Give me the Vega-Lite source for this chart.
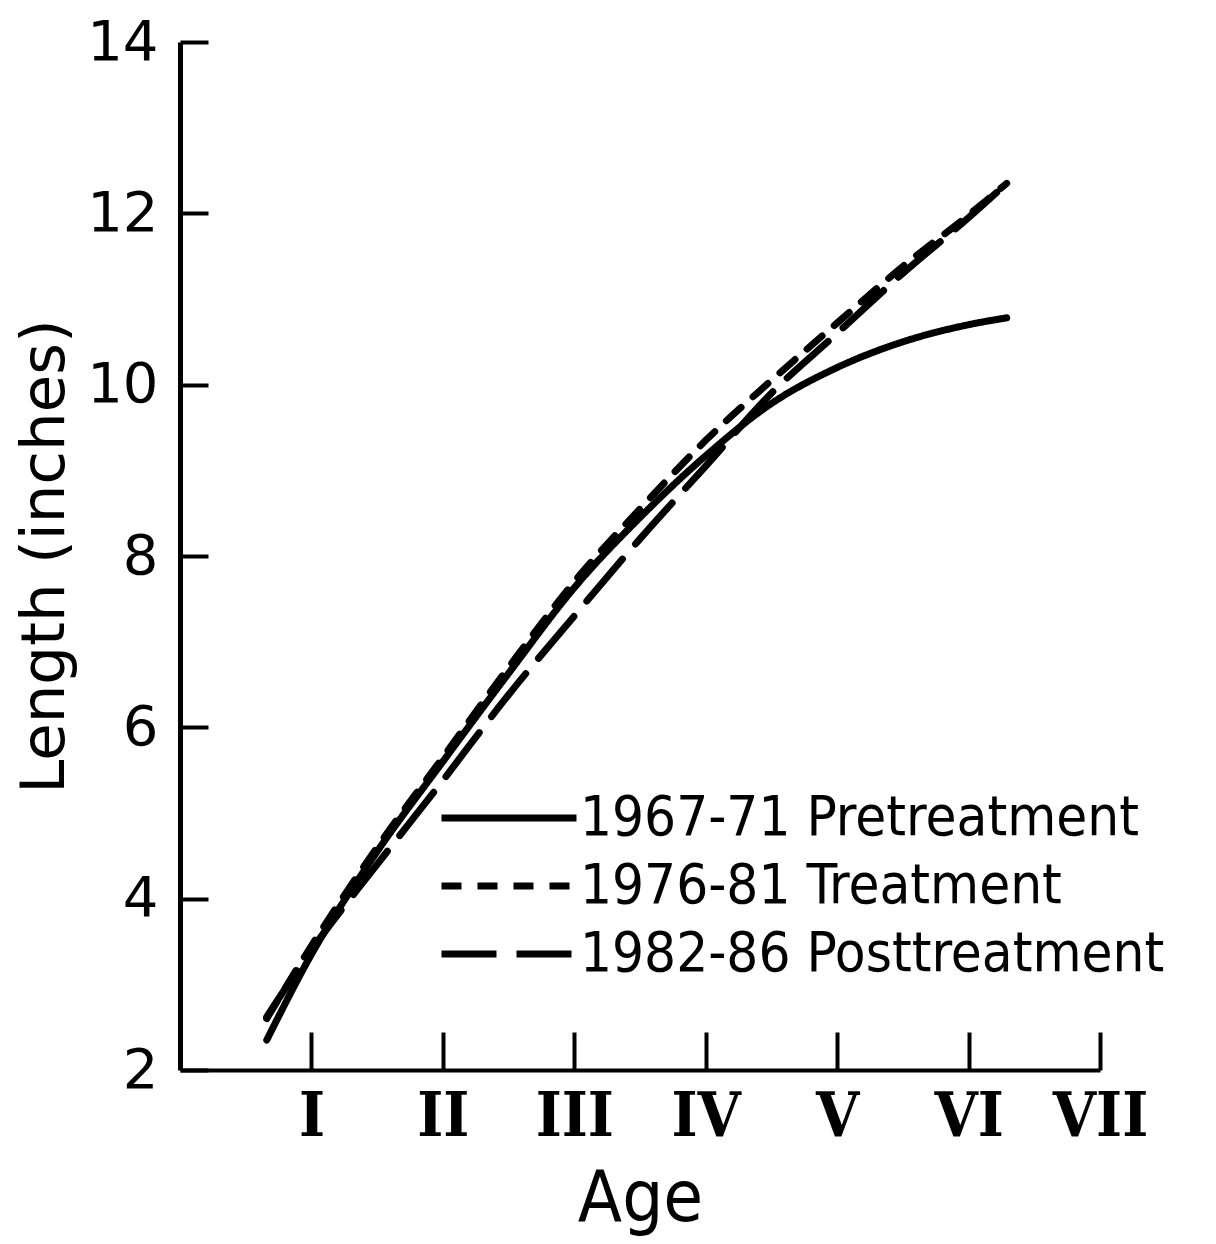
{
  "$schema": "https://vega.github.io/schema/vega-lite/v6.json",
  "width": 920,
  "height": 1028,
  "autosize": {"type": "none"},
  "padding": {"left": 180, "top": 42, "right": 116, "bottom": 174},
  "background": "white",
  "config": {"view": {"stroke": null}, "font": "DejaVu Sans Condensed"},
  "data": {
    "values": [
      {"period": "1967-71 Pretreatment", "age": 0.66, "length": 2.35},
      {"period": "1967-71 Pretreatment", "age": 1.0, "length": 3.35},
      {"period": "1967-71 Pretreatment", "age": 1.5, "length": 4.55},
      {"period": "1967-71 Pretreatment", "age": 2.0, "length": 5.6},
      {"period": "1967-71 Pretreatment", "age": 2.5, "length": 6.63},
      {"period": "1967-71 Pretreatment", "age": 3.0, "length": 7.63},
      {"period": "1967-71 Pretreatment", "age": 3.5, "length": 8.45},
      {"period": "1967-71 Pretreatment", "age": 4.0, "length": 9.17},
      {"period": "1967-71 Pretreatment", "age": 4.5, "length": 9.78},
      {"period": "1967-71 Pretreatment", "age": 5.0, "length": 10.2},
      {"period": "1967-71 Pretreatment", "age": 5.5, "length": 10.5},
      {"period": "1967-71 Pretreatment", "age": 6.0, "length": 10.7},
      {"period": "1967-71 Pretreatment", "age": 6.29, "length": 10.78},
      {"period": "1976-81 Treatment", "age": 0.66, "length": 2.6},
      {"period": "1976-81 Treatment", "age": 1.0, "length": 3.45},
      {"period": "1976-81 Treatment", "age": 1.5, "length": 4.6},
      {"period": "1976-81 Treatment", "age": 2.0, "length": 5.65},
      {"period": "1976-81 Treatment", "age": 2.5, "length": 6.7},
      {"period": "1976-81 Treatment", "age": 3.0, "length": 7.7},
      {"period": "1976-81 Treatment", "age": 3.5, "length": 8.55},
      {"period": "1976-81 Treatment", "age": 4.0, "length": 9.35},
      {"period": "1976-81 Treatment", "age": 4.5, "length": 10.05},
      {"period": "1976-81 Treatment", "age": 5.0, "length": 10.72},
      {"period": "1976-81 Treatment", "age": 5.5, "length": 11.38},
      {"period": "1976-81 Treatment", "age": 6.0, "length": 11.98},
      {"period": "1976-81 Treatment", "age": 6.29, "length": 12.35},
      {"period": "1982-86 Posttreatment", "age": 0.66, "length": 2.62},
      {"period": "1982-86 Posttreatment", "age": 1.0, "length": 3.4},
      {"period": "1982-86 Posttreatment", "age": 1.5, "length": 4.4},
      {"period": "1982-86 Posttreatment", "age": 2.0, "length": 5.38},
      {"period": "1982-86 Posttreatment", "age": 2.5, "length": 6.38},
      {"period": "1982-86 Posttreatment", "age": 3.0, "length": 7.3},
      {"period": "1982-86 Posttreatment", "age": 3.5, "length": 8.2},
      {"period": "1982-86 Posttreatment", "age": 4.0, "length": 9.05},
      {"period": "1982-86 Posttreatment", "age": 4.5, "length": 9.9},
      {"period": "1982-86 Posttreatment", "age": 5.0, "length": 10.6},
      {"period": "1982-86 Posttreatment", "age": 5.5, "length": 11.3},
      {"period": "1982-86 Posttreatment", "age": 6.0, "length": 11.95},
      {"period": "1982-86 Posttreatment", "age": 6.29, "length": 12.35}
    ]
  },
  "mark": {"type": "line", "interpolate": "monotone", "strokeWidth": 7, "strokeCap": "round", "strokeJoin": "round", "color": "black"},
  "encoding": {
    "x": {
      "field": "age", "type": "quantitative",
      "scale": {"domain": [0, 7], "nice": false},
      "axis": {
        "values": [1, 2, 3, 4, 5, 6, 7],
        "labelExpr": "['', 'I', 'II', 'III', 'IV', 'V', 'VI', 'VII'][datum.value]",
        "grid": false,
        "domainColor": "black", "domainWidth": 4,
        "tickColor": "black", "tickWidth": 4, "tickSize": -38,
        "labelFont": "DejaVu Serif Condensed", "labelFontSize": 62, "labelFontWeight": "bold", "labelColor": "black",
        "labelPadding": 54, "labelFlush": false, "labelOverlap": false,
        "title": "Age", "titleFont": "DejaVu Sans Condensed", "titleFontSize": 72, "titleFontWeight": "normal", "titleColor": "black",
        "titlePadding": 16
      }
    },
    "y": {
      "field": "length", "type": "quantitative",
      "scale": {"domain": [2, 14], "nice": false, "zero": false},
      "axis": {
        "values": [2, 4, 6, 8, 10, 12, 14],
        "grid": false,
        "domainColor": "black", "domainWidth": 5,
        "tickColor": "black", "tickWidth": 4, "tickSize": -28,
        "labelFont": "DejaVu Sans", "labelFontSize": 56, "labelColor": "black",
        "labelPadding": 50, "labelFlush": false,
        "title": "Length (inches)", "titleFont": "DejaVu Sans", "titleFontSize": 61, "titleFontWeight": "normal", "titleColor": "black",
        "titlePadding": 10
      }
    },
    "strokeDash": {
      "field": "period", "type": "nominal",
      "scale": {
        "domain": ["1967-71 Pretreatment", "1976-81 Treatment", "1982-86 Posttreatment"],
        "range": [[1, 0], [20, 16], [55, 20]]
      },
      "legend": {
        "orient": "none", "legendX": 258, "legendY": 742,
        "title": null, "padding": 0,
        "symbolType": "stroke", "symbolSize": 18225, "symbolStrokeWidth": 7, "symbolStrokeColor": "black",
        "labelFont": "DejaVu Sans Condensed", "labelFontSize": 56, "labelColor": "black", "labelLimit": 0,
        "labelOffset": 0, "rowPadding": 0, "clipHeight": 68
      }
    }
  }
}
